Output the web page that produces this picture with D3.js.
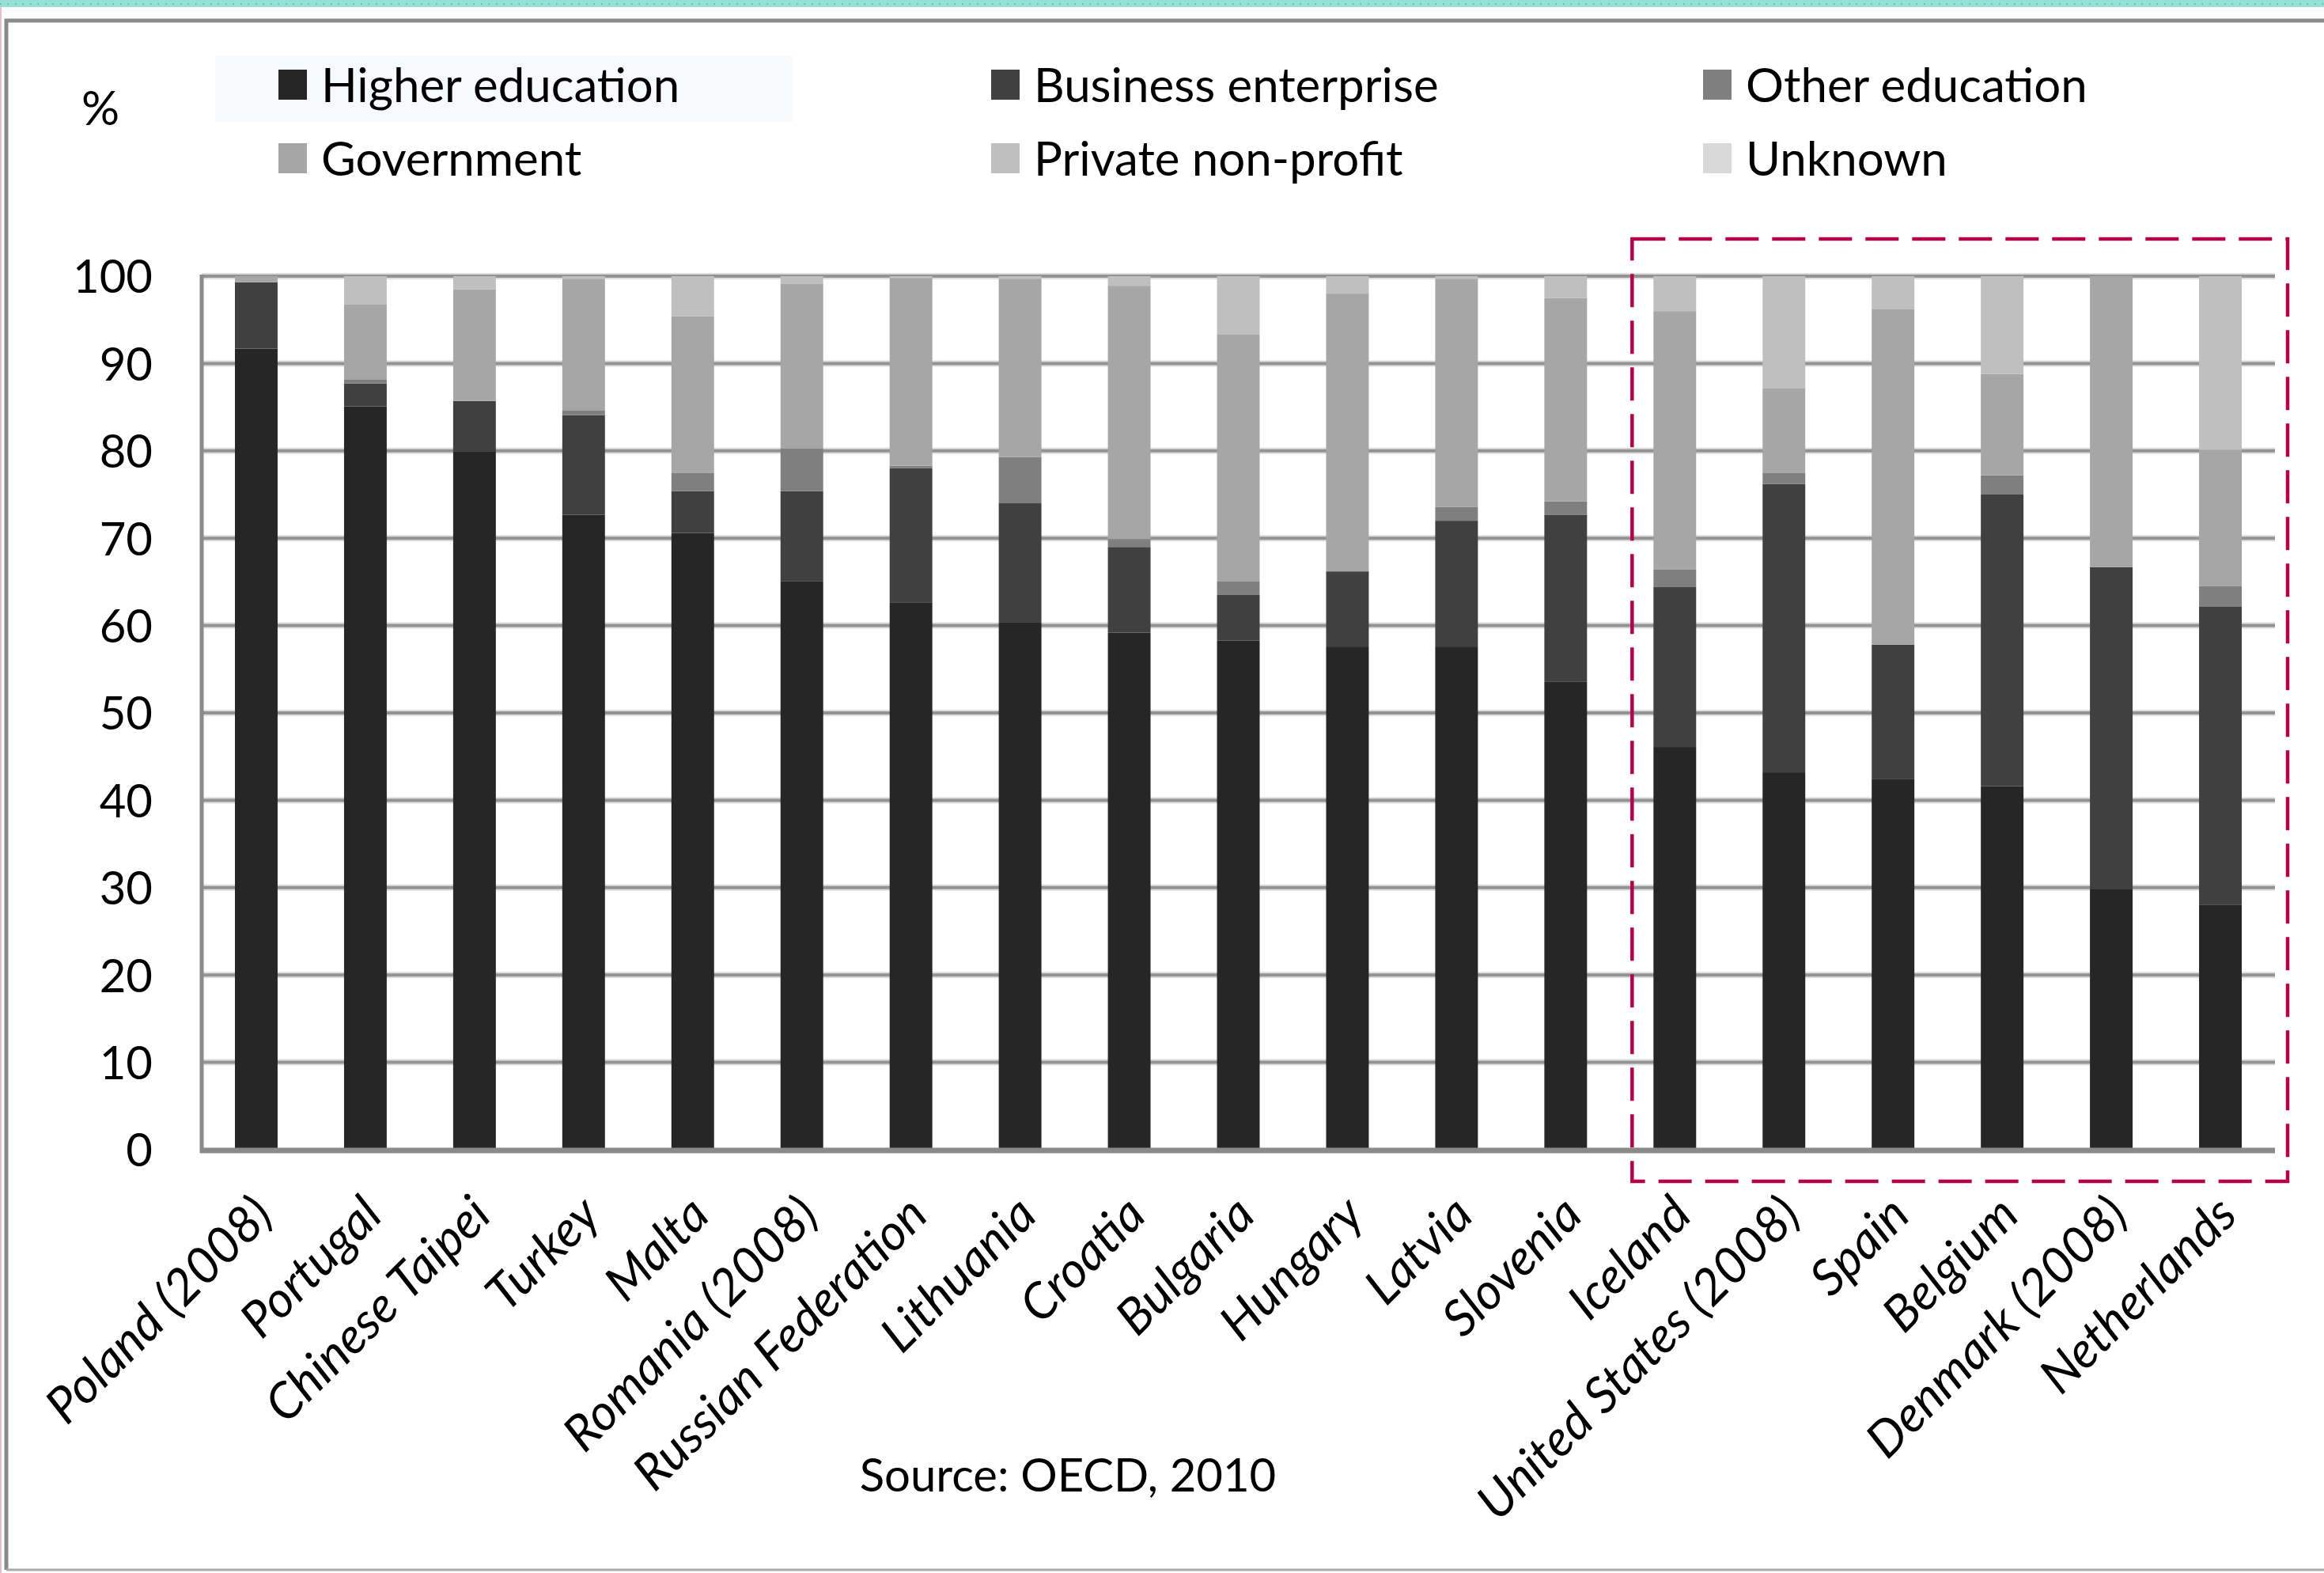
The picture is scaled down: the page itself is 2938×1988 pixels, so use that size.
<!DOCTYPE html>
<html>
<head>
<meta charset="utf-8">
<script src="https://cdn.jsdelivr.net/npm/d3@7"></script>
<style>
  html, body { margin: 0; padding: 0; background: #fff; }
  svg { display: block; }
  text { font-family: Lato, "Open Sans", sans-serif; fill: #000; }
</style>
</head>
<body>
<svg id="chart" width="2938" height="1988"></svg>
<script>
const categories = ["Poland (2008)","Portugal","Chinese Taipei","Turkey","Malta","Romania (2008)","Russian Federation","Lithuania","Croatia","Bulgaria","Hungary","Latvia","Slovenia","Iceland","United States (2008)","Spain","Belgium","Denmark (2008)","Netherlands"];
const seriesNames = ["Higher education","Business enterprise","Other education","Government","Private non-profit","Unknown"];
const higherEducation   = [91.7, 85.1, 79.9, 72.7, 70.6, 65.1, 62.6, 60.4, 59.2, 58.3, 57.6, 57.6, 53.6, 46.1, 43.2, 42.4, 41.6, 29.8, 28.0];
const businessEnterprise= [7.6, 2.6, 5.8, 11.4, 4.8, 10.3, 15.4, 13.6, 9.8, 5.2, 8.6, 14.4, 19.1, 18.3, 33.0, 15.4, 33.4, 36.9, 34.2];
const otherEducation    = [0, 0.5, 0, 0.5, 2.1, 4.9, 0.3, 5.3, 0.9, 1.6, 0, 1.6, 1.5, 2.0, 1.3, 0, 2.2, 0, 2.3];
const government        = [0.7, 8.6, 12.8, 15.1, 17.9, 18.8, 21.5, 20.4, 29.0, 28.2, 31.8, 26.1, 23.3, 29.6, 9.7, 38.4, 11.6, 33.3, 15.6];
const privateNonProfit  = [0, 3.2, 1.5, 0.3, 4.6, 0.9, 0.2, 0.3, 1.1, 6.7, 2.0, 0.3, 2.5, 4.0, 12.8, 3.8, 11.2, 0, 19.9];
const unknown           = [0, 0, 0, 0, 0, 0, 0, 0, 0, 0, 0, 0, 0, 0, 0, 0, 0, 0, 0];
const yTicks = [0, 10, 20, 30, 40, 50, 60, 70, 80, 90, 100];
const sourceText = "Source: OECD, 2010";
const highlighted = ["Iceland","United States (2008)","Spain","Belgium","Denmark (2008)","Netherlands"];

const seriesValues = [higherEducation, businessEnterprise, otherEducation, government, privateNonProfit, unknown];
const colors = ["#262626","#404040","#7f7f7f","#a6a6a6","#bfbfbf","#d9d9d9"];

const table = categories.map((c, i) => {
  const row = { category: c };
  seriesNames.forEach((s, j) => row[s] = seriesValues[j][i]);
  return row;
});

const svg = d3.select("#chart");

// top teal strip
svg.append("rect").attr("x", 0).attr("y", 0).attr("width", 2938).attr("height", 9).attr("fill", "#95e1d4");
svg.append("line").attr("x1", 0).attr("x2", 2938).attr("y1", 5).attr("y2", 5)
  .attr("stroke", "#5fa89c").attr("stroke-width", 1.5).attr("stroke-dasharray", "1.5 8");
svg.append("line").attr("x1", 1).attr("x2", 1).attr("y1", 9).attr("y2", 1988).attr("stroke", "#e6bfd2").attr("stroke-width", 2);

// outer chart frame
svg.append("path").attr("d", "M 8 1984 L 8 26 L 2938 26").attr("fill", "none").attr("stroke", "#8a8a8a").attr("stroke-width", 5);
svg.append("line").attr("x1", 8).attr("x2", 2938).attr("y1", 1984).attr("y2", 1984).attr("stroke", "#a8a8a8").attr("stroke-width", 3);

// faint watermark box behind first legend item
svg.append("rect").attr("x", 272).attr("y", 71).attr("width", 730).attr("height", 83).attr("fill", "#f7f9fc");

const plotLeft = 255, plotRight = 2876, plotTop = 349, plotBottom = 1453;
const x = d3.scaleBand().domain(categories).range([plotLeft, plotRight]).paddingInner(0.609).paddingOuter(0.3045);
const y = d3.scaleLinear().domain([0, 100]).range([plotBottom, plotTop]);

// gridlines
const grid = svg.append("g");
grid.selectAll("line.halo").data(yTicks.filter(d => d > 0)).join("line")
  .attr("x1", plotLeft).attr("x2", plotRight).attr("y1", d => y(d)).attr("y2", d => y(d))
  .attr("stroke", "#dedede").attr("stroke-width", 8);
grid.selectAll("line.g").data(yTicks.filter(d => d > 0)).join("line")
  .attr("x1", plotLeft).attr("x2", plotRight).attr("y1", d => y(d)).attr("y2", d => y(d))
  .attr("stroke", "#939393").attr("stroke-width", 4);

// stacked bars
const stack = d3.stack().keys(seriesNames);
const stacked = stack(table);
const gBars = svg.append("g");
stacked.forEach((layer, j) => {
  gBars.append("g").attr("fill", colors[j])
    .selectAll("rect").data(layer).join("rect")
    .attr("x", d => x(d.data.category))
    .attr("width", x.bandwidth())
    .attr("y", d => y(d[1]))
    .attr("height", d => Math.max(0, y(d[0]) - y(d[1])));
});

// axes
svg.append("line").attr("x1", plotLeft).attr("x2", plotLeft).attr("y1", plotTop - 2).attr("y2", plotBottom + 4).attr("stroke", "#8a8a8a").attr("stroke-width", 5);
svg.append("line").attr("x1", plotLeft - 2).attr("x2", plotRight).attr("y1", plotBottom + 1).attr("y2", plotBottom + 1).attr("stroke", "#8a8a8a").attr("stroke-width", 7);

const yAxis = d3.axisLeft(y).tickValues(yTicks).tickSize(0).tickPadding(0);
const gy = svg.append("g").attr("transform", `translate(193,0)`).call(yAxis);
gy.select(".domain").remove();
gy.selectAll("text").attr("font-size", 58).attr("font-family", "Lato").attr("fill", "#000").attr("dy", "0.36em");

const xAxis = d3.axisBottom(x).tickSize(0).tickPadding(0);
const gx = svg.append("g").attr("transform", `translate(0,${plotBottom})`).call(xAxis);
gx.select(".domain").remove();
gx.selectAll("text")
  .attr("font-size", 63).attr("font-style", "italic").attr("font-family", "Lato").attr("fill", "#000")
  .attr("text-anchor", "end").attr("y", 0).attr("dy", 0)
  .attr("transform", "translate(24,86) rotate(-45)");

// % label
svg.append("text").attr("x", 103).attr("y", 158).attr("font-size", 60).text("%");

// legend
const legendPos = [[352, 107], [1253, 107], [2153, 107], [352, 200], [1253, 200], [2153, 200]];
const legend = svg.append("g");
seriesNames.forEach((s, j) => {
  const [lx, ly] = legendPos[j];
  legend.append("rect").attr("x", lx).attr("y", ly - 19).attr("width", 36).attr("height", 38).attr("fill", colors[j]);
  legend.append("text").attr("x", lx + 54).attr("y", ly).attr("dy", "0.36em").attr("font-size", 60).text(s);
});

// source
svg.append("text").attr("x", 1350).attr("y", 1864).attr("dy", "0.36em").attr("text-anchor", "middle").attr("font-size", 58).text(sourceText);

// dashed highlight box
const hx0 = x(highlighted[0]) - 27, hx1 = x(highlighted[highlighted.length - 1]) + x.bandwidth() + 58;
svg.append("rect").attr("x", hx0).attr("y", 302).attr("width", hx1 - hx0).attr("height", 1493 - 302)
  .attr("fill", "none").attr("stroke", "#b5004b").attr("stroke-width", 4.5).attr("stroke-dasharray", "42 17");
</script>
</body>
</html>
